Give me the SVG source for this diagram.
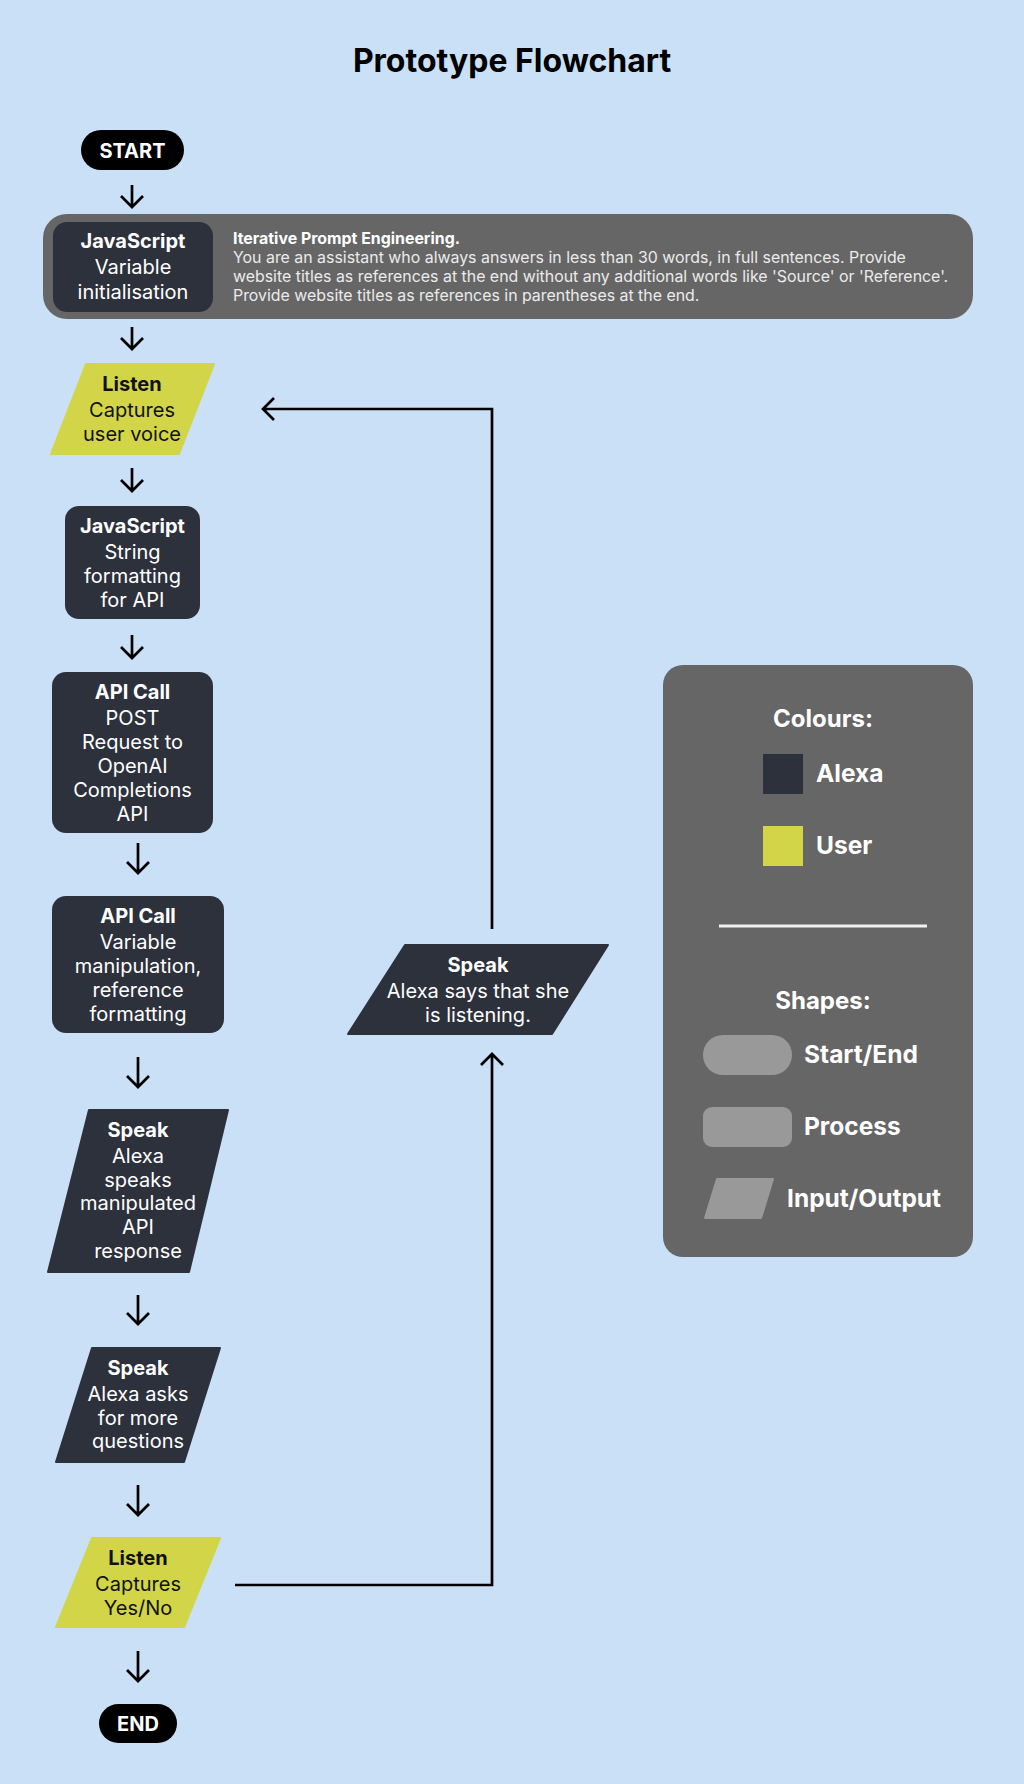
<svg xmlns="http://www.w3.org/2000/svg" width="1024" height="1784" viewBox="0 0 1024 1784">
<style>
text{font-family:Inter,"Noto Sans","Liberation Sans",sans-serif;}
.bg{fill:#c9e0f7}
.dark{fill:#2d313c}
.user{fill:#d2d548}
.term{fill:#000}
.panel{fill:#666666}
.ghost{fill:#999999}
.t{font-size:20px;text-anchor:middle}
.tw{fill:#ffffff}
.tb{fill:#111111}
.b{font-weight:700}
.conn{fill:none;stroke:#000;stroke-width:2.7}
.lg{font-size:24.5px;font-weight:700;fill:#ffffff}
.lh{font-size:24px;font-weight:700;fill:#ffffff;text-anchor:middle}
.pr{font-size:15.9px;fill:#ebebeb}
</style>
<rect class="bg" x="0" y="0" width="1024" height="1784"/>
<text x="512" y="72" style="font-size:32px;font-weight:700;text-anchor:middle;fill:#000">Prototype Flowchart</text>

<g id="start">
<rect class="term" x="81" y="130" width="103" height="40" rx="20"/>
<text class="t tw b" x="132.5" y="158" style="font-size:20px">START</text>
</g>

<g id="js-init">
<rect class="panel" x="43" y="214" width="930" height="105" rx="24"/>
<rect class="dark" x="53" y="222" width="160" height="90" rx="14"/>
<text class="t tw b" x="133" y="248">JavaScript</text>
<text class="t tw" x="133" y="274">Variable</text>
<text class="t tw" x="133" y="299">initialisation</text>
<text class="pr" x="233" y="244" style="font-weight:700;fill:#fff">Iterative Prompt Engineering.</text>
<text class="pr" x="233" y="263">You are an assistant who always answers in less than 30 words, in full sentences. Provide</text>
<text class="pr" x="233" y="282">website titles as references at the end without any additional words like 'Source' or 'Reference'.</text>
<text class="pr" x="233" y="301">Provide website titles as references in parentheses at the end.</text>
</g>

<g id="listen-voice">
<polygon class="user" points="86,364 214,364 179,454 51,454" stroke="#d2d548" stroke-width="2" stroke-linejoin="round"/>
<text class="t tb b" x="132" y="391">Listen</text>
<text class="t tb" x="132" y="417">Captures</text>
<text class="t tb" x="132" y="441">user voice</text>
</g>

<g id="js-string">
<rect class="dark" x="65" y="506" width="135" height="113" rx="14"/>
<text class="t tw b" x="132.5" y="533">JavaScript</text>
<text class="t tw" x="132.5" y="559">String</text>
<text class="t tw" x="132.5" y="583">formatting</text>
<text class="t tw" x="132.5" y="607">for API</text>
</g>

<g id="api-post">
<rect class="dark" x="52" y="672" width="161" height="161" rx="14"/>
<text class="t tw b" x="132.5" y="699">API Call</text>
<text class="t tw" x="132.5" y="725">POST</text>
<text class="t tw" x="132.5" y="749">Request to</text>
<text class="t tw" x="132.5" y="773">OpenAI</text>
<text class="t tw" x="132.5" y="797">Completions</text>
<text class="t tw" x="132.5" y="821">API</text>
</g>

<g id="api-manip">
<rect class="dark" x="52" y="896" width="172" height="137" rx="14"/>
<text class="t tw b" x="138" y="923">API Call</text>
<text class="t tw" x="138" y="949">Variable</text>
<text class="t tw" x="138" y="973">manipulation,</text>
<text class="t tw" x="138" y="997">reference</text>
<text class="t tw" x="138" y="1021">formatting</text>
</g>

<g id="speak-response">
<polygon class="dark" points="89,1110 228,1110 189,1272 48,1272" stroke="#2d313c" stroke-width="2" stroke-linejoin="round"/>
<text class="t tw b" x="138" y="1137">Speak</text>
<text class="t tw" x="138" y="1163">Alexa</text>
<text class="t tw" x="138" y="1187">speaks</text>
<text class="t tw" x="138" y="1210">manipulated</text>
<text class="t tw" x="138" y="1234">API</text>
<text class="t tw" x="138" y="1258">response</text>
</g>

<g id="speak-more">
<polygon class="dark" points="92,1348 220,1348 184,1462 56,1462" stroke="#2d313c" stroke-width="2" stroke-linejoin="round"/>
<text class="t tw b" x="138" y="1375">Speak</text>
<text class="t tw" x="138" y="1401">Alexa asks</text>
<text class="t tw" x="138" y="1425">for more</text>
<text class="t tw" x="138" y="1448">questions</text>
</g>

<g id="listen-yesno">
<polygon class="user" points="92,1538 220,1538 184,1627 56,1627" stroke="#d2d548" stroke-width="2" stroke-linejoin="round"/>
<text class="t tb b" x="138" y="1565">Listen</text>
<text class="t tb" x="138" y="1591">Captures</text>
<text class="t tb" x="138" y="1615">Yes/No</text>
</g>

<g id="end">
<rect class="term" x="99" y="1704" width="78" height="39" rx="19.5"/>
<text class="t tw b" x="138" y="1731" style="font-size:20px">END</text>
</g>

<g id="speak-listening">
<polygon class="dark" points="405,945 608,945 552,1034 348,1034" stroke="#2d313c" stroke-width="2" stroke-linejoin="round"/>
<text class="t tw b" x="478" y="972">Speak</text>
<text class="t tw" x="478" y="998">Alexa says that she</text>
<text class="t tw" x="478" y="1022">is listening.</text>
</g>

<g id="legend">
<rect class="panel" x="663" y="665" width="310" height="592" rx="20"/>
<text class="lh" x="823" y="727">Colours:</text>
<rect class="dark" x="763" y="754" width="40" height="40"/>
<text class="lg" x="816" y="782">Alexa</text>
<rect class="user" x="763" y="826" width="40" height="40"/>
<text class="lg" x="816" y="854">User</text>
<line x1="719" y1="926" x2="927" y2="926" stroke="#f2f2f2" stroke-width="3"/>
<text class="lh" x="823" y="1009">Shapes:</text>
<rect class="ghost" x="703" y="1035" width="89" height="40" rx="20"/>
<text class="lg" x="804" y="1063">Start/End</text>
<rect class="ghost" x="703" y="1107" width="89" height="40" rx="9"/>
<text class="lg" x="804" y="1135">Process</text>
<polygon class="ghost" points="717,1179 773,1179 761,1218 705,1218" stroke="#999999" stroke-width="2" stroke-linejoin="round"/>
<text class="lg" x="787" y="1207">Input/Output</text>
</g>

<g id="connectors">
<path class="conn" d="M132,185 V207 M121,196 L132,207 L143,196"/>
<path class="conn" d="M132,327 V349 M121,338 L132,349 L143,338"/>
<path class="conn" d="M132,468 V491 M121,480 L132,491 L143,480"/>
<path class="conn" d="M132,635 V658 M121,647 L132,658 L143,647"/>
<path class="conn" d="M138,843 V873 M127,862 L138,873 L149,862"/>
<path class="conn" d="M138,1057 V1087 M127,1076 L138,1087 L149,1076"/>
<path class="conn" d="M138,1295 V1324 M127,1313 L138,1324 L149,1313"/>
<path class="conn" d="M138,1485 V1515 M127,1504 L138,1515 L149,1504"/>
<path class="conn" d="M138,1651 V1681 M127,1670 L138,1681 L149,1670"/>
<path class="conn" d="M235,1585 H492 V1054 M481,1065 L492,1054 L503,1065"/>
<path class="conn" d="M492,929 V409 H263 M274,398 L263,409 L274,420"/>
</g>
</svg>
